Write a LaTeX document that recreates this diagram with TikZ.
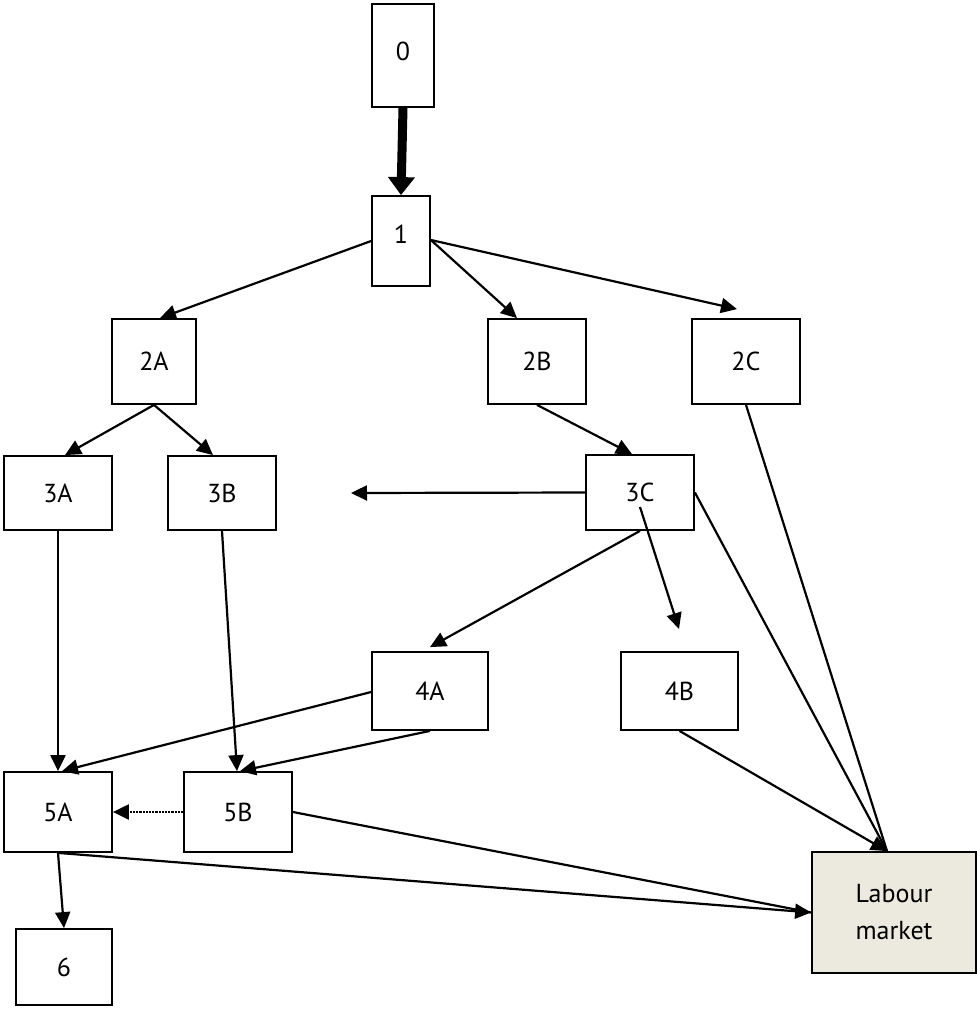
\documentclass[tikz,border=0pt]{standalone}
\usepackage{fontspec}
\setmainfont{PT Sans}
\usetikzlibrary{arrows.meta}
\definecolor{lmfill}{HTML}{ECEADF}
\begin{document}
\begin{tikzpicture}[x=1pt,y=-1pt,
  box/.style={draw,line width=1.8pt,inner sep=0pt,rectangle,font=\fontsize{26}{37}\selectfont,align=center},
  conn/.style={line width=2.2pt,-{Triangle[length=16pt,width=15pt]}},
  plain/.style={line width=2.2pt},
  heavy/.style={line width=9pt,-{Triangle[length=18pt,width=26pt]}}]
\useasboundingbox (0,0) rectangle (977,1010);
\node[box,minimum width=62pt,minimum height=103pt] (n0) at (403,55.5) {\raisebox{8pt}{0}};
\node[box,minimum width=58pt,minimum height=90pt] (n1) at (401,241) {\raisebox{14pt}{1}};
\node[box,minimum width=84pt,minimum height=85pt] (n2A) at (154,361.5) {2A};
\node[box,minimum width=98pt,minimum height=85pt] (n2B) at (537,361.5) {2B};
\node[box,minimum width=108pt,minimum height=85pt] (n2C) at (746,361.5) {2C};
\node[box,minimum width=108pt,minimum height=74pt] (n3A) at (58,493) {3A};
\node[box,minimum width=108pt,minimum height=74pt] (n3B) at (222,493) {3B};
\node[box,minimum width=108pt,minimum height=75pt] (n3C) at (640,492.5) {3C};
\node[box,minimum width=116pt,minimum height=78pt] (n4A) at (430,691) {4A};
\node[box,minimum width=117pt,minimum height=78pt] (n4B) at (679.5,691) {4B};
\node[box,minimum width=108pt,minimum height=80pt] (n5A) at (58,812) {5A};
\node[box,minimum width=108pt,minimum height=80pt] (n5B) at (238,812) {5B};
\node[box,minimum width=96pt,minimum height=76pt] (n6) at (64,967) {6};
\node[box,fill=lmfill,minimum width=164pt,minimum height=121pt] (lm) at (894,912.5) {Labour\\market};
\coordinate (c3left) at (351,493);
\coordinate (c3down) at (679,629);
% connectors
\draw[heavy] (n0.south) -- (n1.north);
\draw[conn] (n1.west) -- ([xshift=6pt]n2A.north);
\draw[conn] ([yshift=1pt]n1.east) -- ([xshift=-20pt]n2B.north);
\draw[conn] ([yshift=1pt]n1.east) -- ([shift={(-9pt,9pt)}]n2C.north);
\draw[conn] (n2A.south) -- ([xshift=7pt]n3A.north);
\draw[conn] (n2A.south) -- ([xshift=-9pt]n3B.north);
\draw[conn] (n2B.south) -- ([xshift=-8pt]n3C.north);
\draw[conn] (n3C.west) -- (c3left);
\draw[conn] (n3C.south) -- ([yshift=4pt]n4A.north);
\draw[conn] ([yshift=-14.5pt]n3C.center) -- (c3down);
\draw[plain] (n3C.east) -- ([xshift=-7pt]lm.north);
\draw[plain] (n2C.south) -- ([xshift=-7pt]lm.north);
\draw[conn] (n4B.south) -- ([xshift=-7pt]lm.north);
\draw[conn] ([yshift=-1pt]n4A.west) -- ([xshift=4pt]n5A.north);
\draw[conn] (n4A.south) -- ([xshift=2pt]n5B.north);
\draw[conn] (n3A.south) -- (n5A.north);
\draw[conn] (n3B.south) -- ([xshift=-1pt]n5B.north);
\draw[line width=2.2pt,densely dotted,-{Triangle[length=16pt,width=15pt]}] (n5B.west) -- (n5A.east);
\draw[plain] (n5B.east) -- (lm.west);
\draw[conn] (n5A.south) -- (lm.west);
\draw[conn] (n5A.south) -- (n6.north);
\end{tikzpicture}
\end{document}
